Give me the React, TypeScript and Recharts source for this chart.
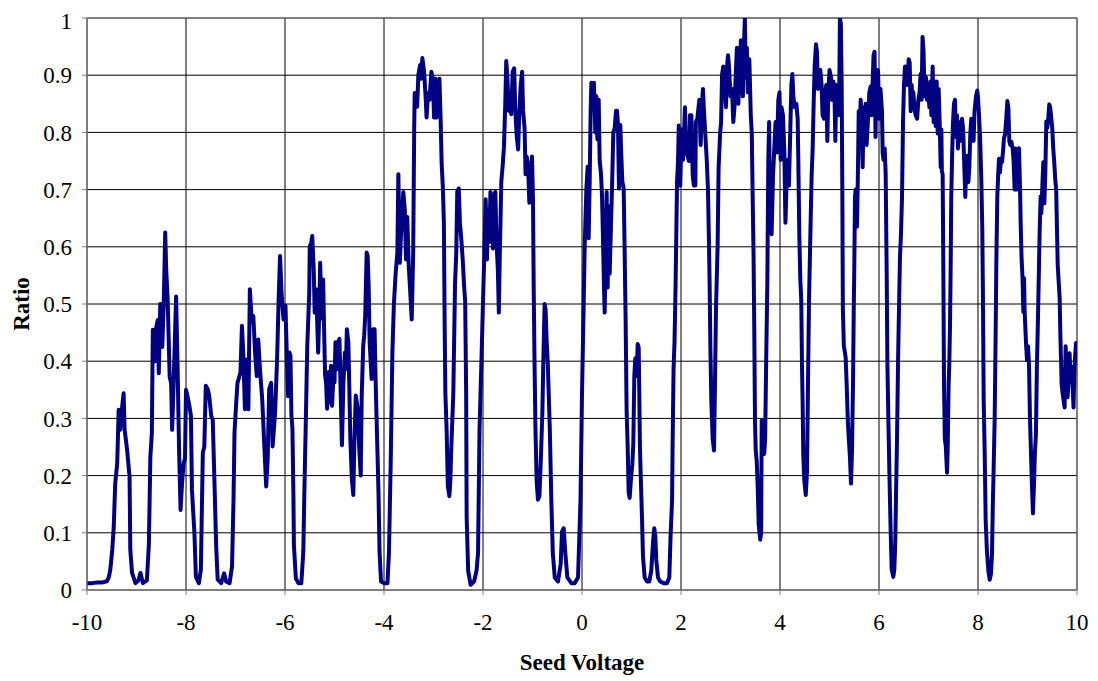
import React from 'react';
import { LineChart, Line, XAxis, YAxis, CartesianGrid, ReferenceLine } from 'recharts';

// [seed voltage, ratio] pairs, one block per 2 V span of the sweep
const sweepA: [number, number][] = [
  [-10, 0.012], [-9.9, 0.012], [-9.8, 0.013], [-9.7, 0.013], [-9.6, 0.015], [-9.56, 0.022], [-9.53, 0.035],
  [-9.49, 0.07], [-9.46, 0.11], [-9.43, 0.186], [-9.39, 0.221], [-9.36, 0.315], [-9.33, 0.28], [-9.29, 0.32],
  [-9.26, 0.344], [-9.24, 0.28], [-9.19, 0.245], [-9.14, 0.198], [-9.125, 0.07], [-9.09, 0.03], [-9.02, 0.012],
  [-8.96, 0.017], [-8.92, 0.03], [-8.87, 0.012], [-8.79, 0.017], [-8.75, 0.08], [-8.72, 0.233], [-8.69, 0.274],
  [-8.67, 0.455], [-8.62, 0.4], [-8.6, 0.46], [-8.57, 0.472], [-8.55, 0.379], [-8.52, 0.5], [-8.48, 0.425],
  [-8.45, 0.5], [-8.42, 0.625], [-8.4, 0.56], [-8.37, 0.507], [-8.33, 0.373], [-8.3, 0.361], [-8.28, 0.28],
  [-8.25, 0.361], [-8.2, 0.513], [-8.17, 0.39], [-8.14, 0.245], [-8.11, 0.14], [-8.08, 0.186], [-8.05, 0.221],
  [-8.02, 0.23],
];

const sweepB: [number, number][] = [
  [-8.0, 0.35], [-7.97, 0.339], [-7.93, 0.321], [-7.9, 0.304], [-7.88, 0.175], [-7.83, 0.1], [-7.8, 0.023],
  [-7.74, 0.012], [-7.7, 0.035], [-7.66, 0.24], [-7.63, 0.251], [-7.6, 0.357], [-7.56, 0.351], [-7.53, 0.339],
  [-7.49, 0.304], [-7.46, 0.298], [-7.43, 0.205], [-7.39, 0.076], [-7.36, 0.018], [-7.29, 0.012], [-7.23, 0.029],
  [-7.19, 0.015], [-7.12, 0.012], [-7.07, 0.041], [-7.04, 0.158], [-7.02, 0.275], [-6.99, 0.321], [-6.96, 0.362],
  [-6.9, 0.38], [-6.87, 0.462], [-6.84, 0.409], [-6.81, 0.316], [-6.77, 0.403], [-6.74, 0.316], [-6.71, 0.526],
  [-6.67, 0.468], [-6.64, 0.479], [-6.6, 0.409], [-6.57, 0.374], [-6.54, 0.438], [-6.51, 0.392], [-6.46, 0.333],
  [-6.42, 0.257], [-6.38, 0.181], [-6.35, 0.228], [-6.32, 0.351], [-6.28, 0.362], [-6.25, 0.251], [-6.2, 0.31],
  [-6.16, 0.403], [-6.13, 0.503], [-6.1, 0.584], [-6.07, 0.52], [-6.03, 0.473],
];

const sweepC: [number, number][] = [
  [-5.99, 0.497], [-5.96, 0.4], [-5.94, 0.339], [-5.91, 0.415], [-5.89, 0.41], [-5.87, 0.305], [-5.85, 0.282],
  [-5.83, 0.166], [-5.82, 0.078], [-5.78, 0.02], [-5.73, 0.012], [-5.67, 0.012], [-5.63, 0.067], [-5.61, 0.166],
  [-5.58, 0.293], [-5.55, 0.427], [-5.51, 0.52], [-5.5, 0.601], [-5.47, 0.607], [-5.45, 0.619], [-5.42, 0.561],
  [-5.4, 0.485], [-5.37, 0.526], [-5.33, 0.415], [-5.31, 0.479], [-5.29, 0.572], [-5.26, 0.474], [-5.23, 0.543],
  [-5.21, 0.456], [-5.19, 0.375], [-5.17, 0.363], [-5.15, 0.317], [-5.12, 0.381], [-5.1, 0.328], [-5.07, 0.392],
  [-5.05, 0.322], [-5.02, 0.375], [-5.0, 0.363], [-4.98, 0.433], [-4.95, 0.386], [-4.93, 0.433], [-4.9, 0.439],
  [-4.88, 0.363], [-4.85, 0.253], [-4.82, 0.363], [-4.79, 0.415], [-4.77, 0.386], [-4.75, 0.456], [-4.72, 0.433],
  [-4.7, 0.352], [-4.68, 0.264], [-4.65, 0.195], [-4.62, 0.166], [-4.6, 0.253], [-4.57, 0.34], [-4.53, 0.317],
  [-4.5, 0.247], [-4.47, 0.2], [-4.45, 0.34], [-4.42, 0.427], [-4.4, 0.445], [-4.38, 0.479], [-4.35, 0.59],
  [-4.33, 0.584], [-4.31, 0.532], [-4.29, 0.433], [-4.25, 0.369], [-4.22, 0.456], [-4.19, 0.456], [-4.17, 0.369],
  [-4.15, 0.3], [-4.13, 0.235], [-4.11, 0.166], [-4.09, 0.067], [-4.06, 0.015], [-4.0, 0.012],
];

const sweepD: [number, number][] = [
  [-3.93, 0.012], [-3.9, 0.065], [-3.865, 0.22], [-3.83, 0.417], [-3.8, 0.5], [-3.765, 0.553], [-3.73, 0.59],
  [-3.71, 0.727], [-3.68, 0.572], [-3.66, 0.615], [-3.61, 0.696], [-3.58, 0.665], [-3.556, 0.578], [-3.53, 0.652],
  [-3.5, 0.566], [-3.475, 0.529], [-3.44, 0.473], [-3.41, 0.59], [-3.39, 0.807], [-3.38, 0.869], [-3.34, 0.857],
  [-3.33, 0.845], [-3.306, 0.9], [-3.27, 0.918], [-3.25, 0.894], [-3.225, 0.93], [-3.19, 0.906], [-3.16, 0.863],
  [-3.14, 0.826], [-3.11, 0.869], [-3.08, 0.857], [-3.044, 0.906], [-3.01, 0.894], [-2.99, 0.826], [-2.96, 0.894],
  [-2.936, 0.826], [-2.91, 0.857], [-2.88, 0.894], [-2.855, 0.82], [-2.835, 0.745], [-2.81, 0.702], [-2.79, 0.64],
  [-2.775, 0.467], [-2.76, 0.343], [-2.735, 0.281], [-2.71, 0.182], [-2.68, 0.164], [-2.66, 0.19], [-2.64, 0.25],
  [-2.6, 0.343], [-2.565, 0.535], [-2.54, 0.59], [-2.52, 0.696], [-2.49, 0.702], [-2.465, 0.64], [-2.44, 0.615],
  [-2.41, 0.578], [-2.38, 0.529], [-2.36, 0.504], [-2.34, 0.343], [-2.33, 0.127], [-2.3, 0.034], [-2.25, 0.009],
  [-2.18, 0.015], [-2.13, 0.034],
];

const sweepE: [number, number][] = [
  [-2.1, 0.065], [-2.07, 0.281], [-2.03, 0.405], [-2.0, 0.504], [-1.98, 0.566], [-1.946, 0.683], [-1.92, 0.578],
  [-1.9, 0.665], [-1.87, 0.609], [-1.85, 0.696], [-1.82, 0.677], [-1.8, 0.597], [-1.78, 0.69], [-1.75, 0.696],
  [-1.73, 0.615], [-1.7, 0.56], [-1.68, 0.485], [-1.66, 0.59], [-1.63, 0.714], [-1.6, 0.745], [-1.576, 0.776],
  [-1.55, 0.85], [-1.53, 0.925], [-1.51, 0.9], [-1.48, 0.838], [-1.455, 0.863], [-1.43, 0.832], [-1.4, 0.906],
  [-1.37, 0.912], [-1.35, 0.844], [-1.32, 0.795], [-1.29, 0.77], [-1.27, 0.826], [-1.24, 0.881], [-1.21, 0.906],
  [-1.19, 0.838], [-1.16, 0.807], [-1.14, 0.727], [-1.12, 0.758], [-1.09, 0.745], [-1.064, 0.677], [-1.04, 0.702],
  [-1.01, 0.758], [-0.99, 0.683], [-0.976, 0.529], [-0.96, 0.405], [-0.94, 0.281], [-0.916, 0.19], [-0.89, 0.158],
  [-0.86, 0.164], [-0.835, 0.22], [-0.8, 0.312], [-0.78, 0.405], [-0.755, 0.5], [-0.735, 0.49], [-0.714, 0.436],
  [-0.69, 0.393], [-0.65, 0.281], [-0.62, 0.158], [-0.59, 0.065], [-0.55, 0.022], [-0.485, 0.015], [-0.43, 0.046],
  [-0.404, 0.102], [-0.37, 0.108], [-0.337, 0.065], [-0.296, 0.022], [-0.215, 0.012], [-0.148, 0.012],
  [-0.08, 0.022], [-0.03, 0.158], [0.0, 0.343],
];

const sweepF: [number, number][] = [
  [0.034, 0.5], [0.054, 0.6], [0.088, 0.7], [0.115, 0.74], [0.135, 0.615], [0.155, 0.714], [0.175, 0.838],
  [0.19, 0.887], [0.216, 0.85], [0.24, 0.887], [0.27, 0.8], [0.29, 0.863], [0.31, 0.788], [0.337, 0.857],
  [0.357, 0.751], [0.384, 0.727], [0.404, 0.69], [0.424, 0.615], [0.444, 0.529], [0.458, 0.485], [0.478, 0.59],
  [0.498, 0.696], [0.518, 0.529], [0.539, 0.671], [0.559, 0.553], [0.586, 0.64], [0.606, 0.702], [0.633, 0.8],
  [0.66, 0.807], [0.687, 0.838], [0.707, 0.838], [0.727, 0.813], [0.747, 0.702], [0.774, 0.813], [0.795, 0.758],
  [0.815, 0.714], [0.842, 0.702], [0.862, 0.59], [0.882, 0.467], [0.902, 0.312], [0.923, 0.25], [0.943, 0.17],
  [0.963, 0.161], [0.99, 0.195], [1.017, 0.22], [1.037, 0.257], [1.057, 0.374], [1.077, 0.405], [1.104, 0.374],
  [1.125, 0.43], [1.145, 0.424], [1.158, 0.343], [1.17, 0.25], [1.19, 0.19], [1.212, 0.127], [1.232, 0.059],
  [1.266, 0.022], [1.313, 0.015], [1.36, 0.015], [1.4, 0.034], [1.434, 0.083], [1.46, 0.108], [1.48, 0.096],
  [1.5, 0.053], [1.535, 0.022], [1.58, 0.015], [1.65, 0.012], [1.717, 0.012], [1.764, 0.022], [1.79, 0.096],
  [1.82, 0.158], [1.83, 0.25], [1.85, 0.387], [1.87, 0.436], [1.89, 0.529], [1.92, 0.714], [1.94, 0.75],
  [1.955, 0.812], [1.985, 0.707],
];

const sweepG: [number, number][] = [
  [2.013, 0.805], [2.04, 0.752], [2.08, 0.844], [2.1, 0.765], [2.135, 0.759], [2.16, 0.75], [2.18, 0.83],
  [2.21, 0.83], [2.236, 0.726], [2.26, 0.707], [2.29, 0.707], [2.3, 0.818], [2.33, 0.824], [2.37, 0.857],
  [2.397, 0.778], [2.42, 0.844], [2.444, 0.876], [2.46, 0.844], [2.49, 0.798], [2.52, 0.752], [2.545, 0.7],
  [2.566, 0.603], [2.58, 0.524], [2.593, 0.427], [2.613, 0.329], [2.64, 0.264], [2.667, 0.244], [2.687, 0.362],
  [2.707, 0.492], [2.74, 0.603], [2.76, 0.739], [2.79, 0.798], [2.81, 0.818], [2.83, 0.902], [2.855, 0.915],
  [2.88, 0.883], [2.91, 0.844], [2.93, 0.915], [2.95, 0.935], [2.97, 0.915], [3.0, 0.863], [3.03, 0.876],
  [3.057, 0.818], [3.08, 0.844], [3.11, 0.909], [3.13, 0.948], [3.158, 0.85], [3.185, 0.902], [3.21, 0.961],
  [3.23, 0.935], [3.25, 0.863], [3.27, 0.948], [3.29, 1.0], [3.31, 0.896], [3.33, 0.948], [3.35, 0.87],
  [3.38, 0.928], [3.41, 0.83], [3.43, 0.798], [3.448, 0.687], [3.465, 0.59], [3.48, 0.46], [3.495, 0.296],
  [3.51, 0.244], [3.53, 0.225], [3.55, 0.179], [3.57, 0.114], [3.6, 0.088], [3.62, 0.101], [3.63, 0.296],
  [3.65, 0.244], [3.68, 0.238], [3.7, 0.264], [3.72, 0.394], [3.744, 0.537], [3.764, 0.752], [3.78, 0.818],
  [3.8, 0.661], [3.83, 0.622], [3.86, 0.726], [3.885, 0.772], [3.91, 0.818], [3.94, 0.765], [3.966, 0.857],
  [3.99, 0.87],
];

const sweepH: [number, number][] = [
  [4.013, 0.752], [4.03, 0.844], [4.06, 0.83], [4.088, 0.765], [4.11, 0.642], [4.135, 0.72], [4.155, 0.752],
  [4.18, 0.707], [4.21, 0.811], [4.23, 0.883], [4.25, 0.902], [4.27, 0.863], [4.296, 0.844], [4.33, 0.85],
  [4.357, 0.824], [4.37, 0.752], [4.39, 0.622], [4.41, 0.544], [4.43, 0.505], [4.444, 0.394], [4.457, 0.329],
  [4.47, 0.238], [4.49, 0.192], [4.52, 0.166], [4.545, 0.205], [4.566, 0.362], [4.586, 0.505], [4.606, 0.59],
  [4.62, 0.648], [4.64, 0.726], [4.66, 0.772], [4.68, 0.85], [4.7, 0.915], [4.727, 0.954], [4.747, 0.941],
  [4.768, 0.876], [4.79, 0.883], [4.815, 0.909], [4.84, 0.883], [4.86, 0.83], [4.89, 0.824], [4.91, 0.87],
  [4.936, 0.883], [4.956, 0.785], [4.976, 0.87], [5.0, 0.909], [5.03, 0.896], [5.05, 0.857], [5.077, 0.889],
  [5.1, 0.87], [5.118, 0.785], [5.138, 0.883], [5.165, 0.87], [5.185, 0.83], [5.2, 0.896], [5.21, 1.0],
  [5.23, 0.99], [5.246, 0.883], [5.26, 0.687], [5.27, 0.492], [5.29, 0.427], [5.326, 0.407], [5.346, 0.362],
  [5.37, 0.296], [5.39, 0.264], [5.414, 0.231], [5.434, 0.186], [5.455, 0.244], [5.475, 0.362], [5.49, 0.492],
  [5.5, 0.557], [5.515, 0.687], [5.53, 0.7], [5.555, 0.635], [5.576, 0.739], [5.59, 0.837], [5.61, 0.798],
  [5.63, 0.857], [5.65, 0.818], [5.67, 0.739], [5.69, 0.844], [5.71, 0.792], [5.73, 0.85], [5.75, 0.778],
  [5.778, 0.824], [5.805, 0.87], [5.83, 0.88], [5.85, 0.83], [5.87, 0.883], [5.89, 0.935], [5.91, 0.941],
  [5.93, 0.792], [5.95, 0.902], [5.98, 0.909],
];

const sweepI: [number, number][] = [
  [6.007, 0.824], [6.03, 0.876], [6.06, 0.837], [6.074, 0.765], [6.09, 0.752], [6.115, 0.772], [6.135, 0.726],
  [6.155, 0.557], [6.17, 0.394], [6.19, 0.296], [6.21, 0.205], [6.236, 0.101], [6.256, 0.036], [6.29, 0.023],
  [6.31, 0.036], [6.33, 0.088], [6.344, 0.166], [6.364, 0.264], [6.384, 0.394], [6.404, 0.492], [6.424, 0.583],
  [6.444, 0.622], [6.465, 0.687], [6.485, 0.818], [6.505, 0.883], [6.525, 0.915], [6.55, 0.909], [6.57, 0.883],
  [6.6, 0.928], [6.62, 0.922], [6.64, 0.837], [6.66, 0.883], [6.675, 0.85], [6.694, 0.87], [6.714, 0.844],
  [6.74, 0.83], [6.77, 0.824], [6.795, 0.857], [6.82, 0.87], [6.84, 0.902], [6.86, 0.857], [6.88, 0.967],
  [6.9, 0.941], [6.92, 0.863], [6.95, 0.896], [6.97, 0.857], [6.99, 0.883], [7.017, 0.844], [7.037, 0.889],
  [7.057, 0.83], [7.084, 0.915], [7.104, 0.818], [7.125, 0.889], [7.145, 0.811], [7.165, 0.889], [7.185, 0.798],
  [7.205, 0.876], [7.226, 0.818], [7.246, 0.739], [7.26, 0.805], [7.27, 0.733], [7.286, 0.726], [7.3, 0.557],
  [7.313, 0.362], [7.33, 0.264], [7.35, 0.251], [7.374, 0.205], [7.387, 0.244], [7.407, 0.362], [7.42, 0.394],
  [7.434, 0.459], [7.447, 0.557], [7.46, 0.687], [7.475, 0.752], [7.495, 0.818], [7.515, 0.85], [7.535, 0.857],
  [7.556, 0.792], [7.576, 0.83], [7.596, 0.772], [7.616, 0.818], [7.636, 0.785], [7.657, 0.798], [7.677, 0.824],
  [7.7, 0.805], [7.724, 0.739], [7.744, 0.687], [7.764, 0.752], [7.785, 0.759], [7.805, 0.713], [7.825, 0.739],
  [7.845, 0.798], [7.865, 0.824], [7.89, 0.805], [7.91, 0.785], [7.93, 0.837], [7.96, 0.863], [7.985, 0.873],
];

const sweepJ: [number, number][] = [
  [8.0, 0.861], [8.02, 0.831], [8.04, 0.796], [8.067, 0.718], [8.087, 0.629], [8.1, 0.51], [8.115, 0.331],
  [8.135, 0.241], [8.155, 0.122], [8.18, 0.069], [8.21, 0.033], [8.236, 0.018], [8.26, 0.027], [8.283, 0.063],
  [8.3, 0.152], [8.316, 0.212], [8.337, 0.3], [8.357, 0.45], [8.37, 0.569], [8.39, 0.688], [8.41, 0.73],
  [8.424, 0.754], [8.444, 0.73], [8.465, 0.754], [8.485, 0.748], [8.505, 0.766], [8.525, 0.79], [8.545, 0.796],
  [8.572, 0.825], [8.593, 0.855], [8.613, 0.843], [8.633, 0.784], [8.653, 0.778], [8.673, 0.784], [8.7, 0.772],
  [8.72, 0.748], [8.74, 0.7], [8.76, 0.772], [8.78, 0.7], [8.8, 0.766], [8.828, 0.772], [8.85, 0.7],
  [8.862, 0.641], [8.88, 0.581], [8.9, 0.545], [8.916, 0.486], [8.93, 0.545], [8.943, 0.486], [8.97, 0.432],
  [8.99, 0.402], [9.01, 0.426], [9.03, 0.396], [9.05, 0.3], [9.07, 0.241], [9.09, 0.182], [9.11, 0.134],
  [9.13, 0.182], [9.15, 0.241], [9.17, 0.271], [9.19, 0.39], [9.21, 0.468], [9.23, 0.557], [9.246, 0.629],
  [9.266, 0.688], [9.28, 0.659], [9.3, 0.706], [9.32, 0.748], [9.34, 0.676], [9.36, 0.73], [9.38, 0.819],
  [9.4, 0.808], [9.42, 0.825], [9.44, 0.849], [9.46, 0.843], [9.48, 0.825], [9.5, 0.808], [9.52, 0.772],
  [9.54, 0.748], [9.56, 0.718], [9.58, 0.7], [9.596, 0.629], [9.61, 0.569], [9.63, 0.539], [9.65, 0.51],
  [9.663, 0.45], [9.677, 0.402], [9.69, 0.36], [9.71, 0.343], [9.73, 0.331], [9.75, 0.319], [9.77, 0.426],
  [9.79, 0.39], [9.81, 0.337], [9.83, 0.366], [9.85, 0.414], [9.87, 0.366], [9.89, 0.39], [9.91, 0.36],
  [9.93, 0.319], [9.95, 0.39], [9.98, 0.432], [10.0, 0.43],
];

const voltageTicks = [-10, -8, -6, -4, -2, 0, 2, 4, 6, 8, 10];
const ratioTicks = [0, 0.1, 0.2, 0.3, 0.4, 0.5, 0.6, 0.7, 0.8, 0.9, 1];

const data = [
  ...sweepA, ...sweepB, ...sweepC, ...sweepD, ...sweepE,
  ...sweepF, ...sweepG, ...sweepH, ...sweepI, ...sweepJ,
].map(([v, r]) => ({ v, r }));

const FONT = '"Liberation Serif", "Times New Roman", serif';
const AXIS_GREY = '#808080';

const App: React.FC = () => {
  return (
    <div style={{ width: 1090, height: 673, background: '#fff' }}>
      <LineChart
        width={1090}
        height={673}
        data={data}
        margin={{ top: 10, right: 21, left: 0, bottom: 6 }}
      >
        <CartesianGrid stroke="#000" strokeWidth={1} />
        <XAxis
          dataKey="v"
          type="number"
          domain={[-10, 10]}
          ticks={voltageTicks}
          allowDataOverflow
          height={85}
          stroke={AXIS_GREY}
          tickSize={5}
          tickMargin={19}
          tick={{ fill: '#000', fontSize: 23, fontFamily: FONT }}
          label={{
            value: 'Seed Voltage',
            position: 'insideBottom',
            offset: 5,
            style: { fill: '#000', fontSize: 23, fontWeight: 'bold', fontFamily: FONT },
          }}
        />
        <YAxis
          type="number"
          domain={[0, 1]}
          ticks={ratioTicks}
          allowDataOverflow
          width={79}
          stroke={AXIS_GREY}
          tickSize={5}
          tickMargin={10}
          tickFormatter={(t: number) => String(t)}
          tick={{ fill: '#000', fontSize: 23, fontFamily: FONT }}
          label={{
            value: 'Ratio',
            angle: -90,
            position: 'insideLeft',
            offset: 13,
            style: { fill: '#000', fontSize: 23, fontWeight: 'bold', fontFamily: FONT, textAnchor: 'middle' },
          }}
        />
        <ReferenceLine y={1} stroke={AXIS_GREY} strokeWidth={1} />
        <ReferenceLine x={10} stroke={AXIS_GREY} strokeWidth={1} />
        <Line
          type="linear"
          dataKey="r"
          stroke="#000080"
          strokeWidth={4}
          strokeLinejoin="round"
          strokeLinecap="round"
          dot={false}
          activeDot={false}
          isAnimationActive={false}
        />
      </LineChart>
    </div>
  );
};

export default App;
